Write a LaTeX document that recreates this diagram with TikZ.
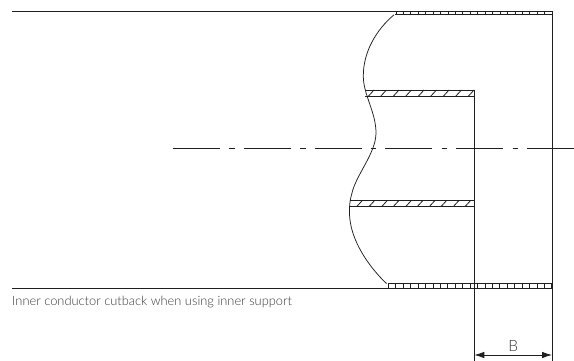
\documentclass[tikz,border=0pt]{standalone}
\usepackage{fontspec}
\setmainfont{Lato Light}
\usetikzlibrary{arrows.meta}
\definecolor{ink}{gray}{0.12}
\definecolor{txt}{gray}{0.22}
\tikzset{
  outline/.style={draw=ink,line width=0.9pt},
  thin part/.style={draw=ink,line width=0.75pt},
  hatchline/.style={draw=ink,line width=0.8pt},
  centre/.style={draw=ink,line width=0.8pt},
  dimline/.style={draw=ink,line width=0.8pt,{Latex[length=10pt,width=6.5pt]}-{Latex[length=10pt,width=6.5pt]}},
  caption/.style={text=txt,inner sep=0pt,anchor=base west,font=\fontsize{12.85}{14}\selectfont},
  dimlabel/.style={text=txt,inner sep=0pt,anchor=base,font=\fontsize{15.5}{17}\selectfont}
}
\begin{document}
\begin{tikzpicture}[x=1pt,y=-1pt]
\useasboundingbox (0,0) rectangle (574,361);
% outer conductor
\draw[outline] (12,11) -- (552,11) -- (552,361);
\draw[outline] (395,14.8) -- (552,14.8);
\draw[outline] (12,288) -- (552,288);
\draw[outline] (388,283.5) -- (552,283.5);
% teeth
\foreach \k in {0,...,21} \draw[thin part] ({396+7.43*\k},11) -- ({396+7.43*\k},14.8);
\foreach \k in {0,...,22} \draw[thin part] ({388.3+7.43*\k},283.5) -- ({388.3+7.43*\k},288);
% inner conductor
\draw[outline] (365,90) -- (474.3,90) -- (474.3,361);
\draw[outline] (365,96.3) -- (474.3,96.3);
\draw[outline] (349.6,200.4) -- (474.3,200.4);
\draw[outline] (349.6,206.6) -- (474.3,206.6);
% hatching
\foreach \x in {368.3,380.7,393.3,405.7,418.3,430.7,443.3,455.7,468.3}
  \draw[hatchline] (\x,96.3) -- ({\x+5.7},90);
\foreach \x in {356.7,369,381.7,393.3,405.7,417.3,429.3,441,453.3,465}
  \draw[hatchline] (\x,206.6) -- ({\x+5.7},200.4);
% break line
\draw[thin part] (394,14.8) .. controls (376,30) and (363.3,52) .. (363.3,76)
  .. controls (363.3,95) and (376,112) .. (376,133)
  .. controls (376,153) and (356,175) .. (352,193)
  .. controls (349,203) and (349,212) .. (350,220)
  .. controls (353,245) and (372,270) .. (386.5,283.5);
% centre line
\foreach \a/\b in {173/220,229/234.5,243.5/290.5,300/305.5,314.5/361.5,370.5/375.5,385/432,441.5/447,456/503,512.5/518,527/574}
  \draw[centre] (\a,148.7) -- (\b,148.7);
% dimension
\coordinate (dimL) at (474.3,355);
\coordinate (dimR) at (552,355);
\draw[dimline] (dimL) -- (dimR);
\node[dimlabel] (blabel) at (513.3,351) {B};
\node[caption] (cap) at (12,305) {Inner conductor cutback when using inner support};
\end{tikzpicture}
\end{document}
